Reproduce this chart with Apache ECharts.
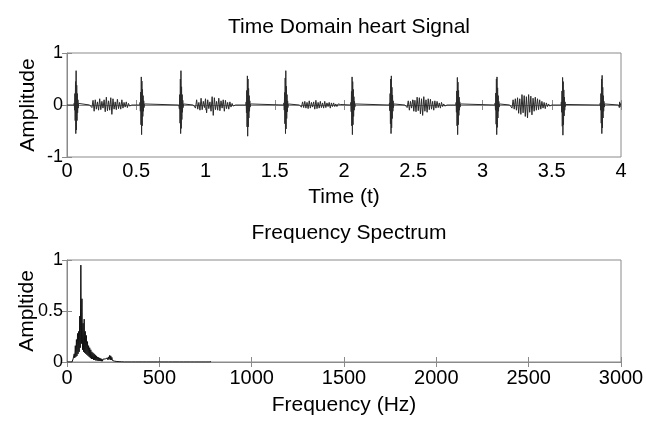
<!DOCTYPE html>
<html>
<head>
<meta charset="utf-8">
<script src="https://cdn.jsdelivr.net/npm/echarts@6/dist/echarts.min.js"></script>
<style>html,body{margin:0;padding:0;background:#fff;}#c{width:646px;height:421px;}</style>
</head>
<body>
<div id="c"></div>
<script>
// ---- Time-domain signal ----
const timeTicks = [0, 0.5, 1, 1.5, 2, 2.5, 3, 3.5, 4];
const burstCenters = [0.068, 0.543, 0.825, 1.309, 1.582, 2.065, 2.344, 2.825, 3.107, 3.585, 3.866, 3.99];
const burstStep = 0.0022;
const burstValues = [
  [0.04,-0.1,0.22,-0.3,0.45,-0.55,0.66,-0.48,0.38,-0.3,0.22,-0.15,0.1,-0.06,0.03],
  [0.05,-0.12,0.25,-0.38,0.54,-0.57,0.46,-0.4,0.3,-0.22,0.18,-0.12,0.08,-0.05,0.02],
  [0.03,-0.08,0.2,-0.35,0.5,-0.55,0.66,-0.45,0.35,-0.28,0.2,-0.14,0.09,-0.05,0.02],
  [0.06,-0.15,0.28,-0.42,0.56,-0.6,0.5,-0.42,0.32,-0.25,0.18,-0.12,0.08,-0.04,0.02],
  [0.04,-0.1,0.24,-0.36,0.52,-0.55,0.66,-0.46,0.36,-0.26,0.2,-0.13,0.08,-0.05,0.02],
  [0.05,-0.13,0.26,-0.4,0.54,-0.57,0.45,-0.38,0.3,-0.22,0.16,-0.1,0.07,-0.04,0.02],
  [0.04,-0.11,0.22,-0.36,0.5,-0.55,0.56,-0.44,0.34,-0.26,0.19,-0.12,0.08,-0.05,0.02],
  [0.05,-0.14,0.27,-0.4,0.53,-0.57,0.44,-0.38,0.28,-0.2,0.15,-0.1,0.06,-0.04,0.02],
  [0.04,-0.1,0.23,-0.37,0.5,-0.57,0.54,-0.43,0.33,-0.25,0.18,-0.12,0.07,-0.04,0.02],
  [0.06,-0.14,0.27,-0.41,0.53,-0.58,0.45,-0.38,0.29,-0.21,0.15,-0.1,0.06,-0.03,0.01],
  [0.04,-0.1,0.22,-0.35,0.5,-0.55,0.57,-0.44,0.34,-0.25,0.18,-0.12,0.07,-0.04,0.02],
  [0.03,-0.05,0.06,-0.04,0.03]
];
const murmurStarts = [0.172, 0.92, 1.685, 2.448, 3.205];
const murmurStep = 0.008;
const murmurValues = [
  [0.02,-0.05,0.09,-0.12,0.1,-0.08,0.06,-0.1,0.12,-0.09,0.07,-0.06,0.1,-0.13,0.15,-0.11,0.08,-0.1,0.14,-0.18,0.12,-0.08,0.06,-0.09,0.11,-0.07,0.05,-0.08,0.1,-0.06,0.05,-0.04,0.06,-0.05,0.03,-0.02,0.01],
  [0.03,-0.06,0.1,-0.08,0.05,-0.1,0.13,-0.09,0.07,-0.05,0.12,-0.15,0.1,-0.07,0.06,-0.12,0.16,-0.2,0.14,-0.09,0.07,-0.1,0.13,-0.11,0.08,-0.06,0.1,-0.12,0.09,-0.07,0.05,-0.08,0.06,-0.04,0.03,-0.02,0.01],
  [0.02,-0.04,0.06,-0.05,0.07,-0.06,0.05,-0.07,0.08,-0.06,0.05,-0.04,0.06,-0.08,0.09,-0.07,0.05,-0.06,0.07,-0.05,0.04,-0.06,0.07,-0.05,0.04,-0.03,0.05,-0.06,0.04,-0.03,0.04,-0.03,0.02,-0.03,0.02,-0.01,0.01],
  [0.02,-0.05,0.08,-0.1,0.07,-0.06,0.1,-0.12,0.09,-0.13,0.15,-0.11,0.14,-0.17,0.12,-0.2,0.16,-0.12,0.1,-0.14,0.12,-0.09,0.11,-0.08,0.07,-0.1,0.08,-0.06,0.07,-0.05,0.04,-0.06,0.05,-0.03,0.02,-0.02,0.01],
  [0.03,-0.06,0.1,-0.08,0.12,-0.1,0.14,-0.16,0.12,-0.18,0.2,-0.15,0.18,-0.22,0.16,-0.25,0.2,-0.14,0.17,-0.19,0.13,-0.12,0.15,-0.1,0.12,-0.09,0.1,-0.08,0.07,-0.06,0.05,-0.07,0.04,-0.03,0.02,-0.02,0.01]
];

// ---- Frequency spectrum ----
const freqTicks = [0, 500, 1000, 1500, 2000, 2500, 3000];
const specStart = 30;
const specStep = 3;
const specValues = [0.01,0.03,0.02,0.08,0.04,0.16,0.05,0.22,0.06,0.28,0.08,0.3,0.1,0.45,0.14,0.95,0.18,0.62,0.12,0.38,
  0.1,0.42,0.09,0.3,0.08,0.26,0.07,0.2,0.06,0.16,0.05,0.14,0.04,0.12,0.03,0.1,0.03,0.09,0.02,0.08,
  0.02,0.07,0.015,0.06,0.015,0.05,0.01,0.045,0.01,0.04,0.01,0.035,0.008,0.03,0.008,0.028,0.01,0.025,0.012,0.03,
  0.015,0.035,0.02,0.04,0.02,0.05,0.03,0.065,0.02,0.06,0.02,0.045,0.015,0.03,0.01,0.025,0.008,0.02,0.005,0.015,
  0.005,0.012,0.004,0.01,0.003,0.008,0.003,0.006,0.002,0.005];
const tailStart = 300;
const tailStep = 10;
const tailValues = [0.006,0,0.005,0,0.006,0,0.004,0,0.005,0,0.006,0,0.004,0,0.005,0,0.004,0,0.005,0,
  0.004,0,0.005,0,0.004,0,0.005,0,0.004,0,0.005,0,0.004,0,0.004,0,0.005,0,0.004,0,0.004,0,0.005,0,0.004,0,0.004,0,0.003];

// ---- build series data ----
function buildSignal(){
  const segs = [];
  burstCenters.forEach((c,i)=>{
    const vals = burstValues[i];
    segs.push({t0: c - burstStep*(vals.length-1)/2, dt: burstStep, v: vals});
  });
  murmurStarts.forEach((s,i)=>segs.push({t0: s, dt: murmurStep, v: murmurValues[i]}));
  segs.sort((a,b)=>a.t0-b.t0);
  const out = [[0,0]];
  segs.forEach(s=>{
    out.push([s.t0 - s.dt, 0]);
    s.v.forEach((y,k)=>out.push([s.t0 + k*s.dt, y]));
    out.push([s.t0 + s.v.length*s.dt, 0]);
  });
  out.push([4,0]);
  return out;
}
function buildSpectrum(){
  const out = [[0,0],[specStart-specStep,0]];
  specValues.forEach((y,k)=>out.push([specStart + k*specStep, y]));
  tailValues.forEach((y,k)=>out.push([tailStart + k*tailStep, y]));
  return out;
}

const FONT = "'Liberation Sans', Arial, sans-serif";
const BOX = '#8a8a8a';
const tickStyle = {show:true, inside:true, length:5, lineStyle:{color:BOX}};
const xLblStyle = {color:'#000', fontSize:20, fontFamily:FONT, formatter:v=>String(v)};
const yLblStyle = {color:'#000', fontSize:18, fontFamily:FONT, formatter:v=>String(v)};
const nameStyle = {color:'#000', fontSize:21, fontFamily:FONT};

const chart = echarts.init(document.getElementById('c'), null, {renderer:'canvas'});
chart.setOption({
  animation:false,
  backgroundColor:'#fff',
  title:[
    {text:'Time Domain heart Signal', left:344, top:12, textAlign:'center',
     textStyle:{color:'#000', fontSize:21, fontWeight:'normal', fontFamily:FONT}},
    {text:'Frequency Spectrum', left:344, top:218, textAlign:'center',
     textStyle:{color:'#000', fontSize:21, fontWeight:'normal', fontFamily:FONT}}
  ],
  grid:[
    {left:67, top:53, width:554, height:104, show:true, borderColor:BOX, borderWidth:1, backgroundColor:'#fff', outerBoundsMode:'none', containLabel:false},
    {left:67, top:260, width:554, height:102, show:true, borderColor:BOX, borderWidth:1, backgroundColor:'#fff', outerBoundsMode:'none', containLabel:false}
  ],
  xAxis:[
    {type:'value', gridIndex:0, min:0, max:4, interval:0.5, position:'bottom',
     name:'Time (t)', nameLocation:'middle', nameGap:30, nameMoveOverlap:false, nameTextStyle:nameStyle,
     axisLine:{show:true, lineStyle:{color:BOX}}, axisTick:tickStyle, splitLine:{show:false},
     axisLabel:Object.assign({margin:4}, xLblStyle)},
    {type:'value', gridIndex:0, min:0, max:4, interval:0.5, position:'top',
     axisLine:{show:false}, axisTick:tickStyle, splitLine:{show:false}, axisLabel:{show:false}},
    {type:'value', gridIndex:1, min:0, max:3000, interval:500, position:'bottom',
     name:'Frequency (Hz)', nameLocation:'middle', nameGap:33, nameMoveOverlap:false, nameTextStyle:nameStyle,
     axisLine:{show:true, lineStyle:{color:BOX}}, axisTick:tickStyle, splitLine:{show:false},
     axisLabel:Object.assign({margin:6}, xLblStyle)},
    {type:'value', gridIndex:1, min:0, max:3000, interval:500, position:'top',
     axisLine:{show:false}, axisTick:tickStyle, splitLine:{show:false}, axisLabel:{show:false}}
  ],
  yAxis:[
    {type:'value', gridIndex:0, min:-1, max:1, interval:1, position:'left',
     name:'Amplitude', nameLocation:'middle', nameGap:28, nameRotate:90, nameMoveOverlap:false, nameTextStyle:nameStyle,
     axisLine:{show:true, lineStyle:{color:BOX}}, axisTick:tickStyle, splitLine:{show:false},
     axisLabel:Object.assign({margin:4}, yLblStyle)},
    {type:'value', gridIndex:0, min:-1, max:1, interval:1, position:'right',
     axisLine:{show:false}, axisTick:tickStyle, splitLine:{show:false}, axisLabel:{show:false}},
    {type:'value', gridIndex:1, min:0, max:1, interval:0.5, position:'left',
     name:'Ampltide', nameLocation:'middle', nameGap:29, nameRotate:90, nameMoveOverlap:false, nameTextStyle:nameStyle,
     axisLine:{show:true, lineStyle:{color:BOX}}, axisTick:tickStyle, splitLine:{show:false},
     axisLabel:Object.assign({margin:4}, yLblStyle)},
    {type:'value', gridIndex:1, min:0, max:1, interval:0.5, position:'right',
     axisLine:{show:false}, axisTick:tickStyle, splitLine:{show:false}, axisLabel:{show:false}}
  ],
  series:[
    {type:'line', xAxisIndex:0, yAxisIndex:0, data:buildSignal(), showSymbol:false, symbol:'none',
     lineStyle:{color:'#2a2a2a', width:1}, clip:true},
    {type:'line', xAxisIndex:2, yAxisIndex:2, data:buildSpectrum(), showSymbol:false, symbol:'none',
     lineStyle:{color:'#111', width:1}, clip:true}
  ]
});
</script>
</body>
</html>
